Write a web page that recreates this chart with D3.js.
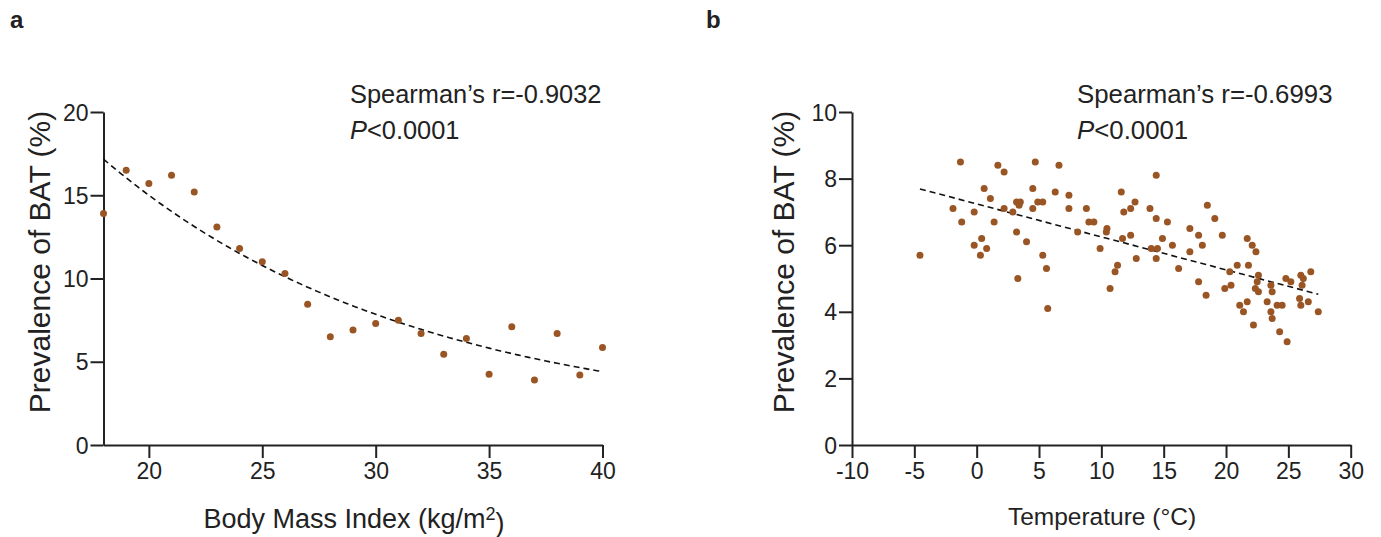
<html>
<head>
<meta charset="utf-8">
<script src="https://cdn.jsdelivr.net/npm/d3@7"></script>
<style>
  body { margin: 0; background: #fff; }
  text { font-family: "Liberation Sans", Arial, sans-serif; fill: #222; }
</style>
</head>
<body>
<svg id="chart" width="1381" height="537"></svg>
<script>
// panel a : BMI vs prevalence
var bmiX = [18, 19, 20, 21, 22, 23, 24, 25, 26, 27, 28, 29, 30, 31, 32, 33, 34, 35, 36, 37, 38, 39, 40];
var bmiY = [13.9, 16.5, 15.7, 16.2, 15.2, 13.1, 11.8, 11.0, 10.3, 8.45, 6.5, 6.9, 7.3, 7.5, 6.7, 5.45, 6.4, 4.25, 7.1, 3.9, 6.7, 4.2, 5.85];
var bmiTicksX = [20, 25, 30, 35, 40];
var bmiTicksY = [0, 5, 10, 15, 20];
// one phase decay fit: plateau + span * exp(-k (x - 18))
var bmiFit = { plateau: 1.2, span: 15.97, k: 0.073 };

// panel b : temperature vs prevalence
var tempX = [-1.3, 1.7, 2.2, 0.6, 1.1, -1.9, -0.2, 2.2, 2.9, -1.2, 1.4, 3.2, 0.4, -0.2, 0.8, 0.3, -4.55, 3.3,
  4.7, 6.6, 4.5, 6.3, 7.4, 3.2, 3.5, 3.4, 4.9, 5.3, 4.5, 7.4, 8.8, 9.0, 9.4, 8.1, 4.0, 10.45, 10.4, 11.6, 12.7, 11.8, 12.35,
  13.9, 14.4, 14.4, 15.3, 14.9, 11.7, 12.35, 9.9, 14.0, 14.5, 15.7, 14.4, 12.8, 16.2, 5.3, 5.6, 5.7, 11.3, 11.1, 10.7,
  18.5, 19.1, 17.1, 17.8, 18.1, 19.7, 17.1, 17.8, 18.4, 21.7, 22.1, 22.4, 20.9, 21.8, 20.3, 20.4, 19.9, 22.6, 22.5, 22.35,
  22.6, 23.6, 23.7, 23.3, 23.6, 23.7, 24.1, 24.5, 21.1, 21.7, 21.4, 22.2, 24.3, 24.9, 24.8, 25.2, 26.0, 26.2, 26.1, 26.8,
  25.9, 26.0, 26.6, 27.4];
var tempY = [8.5, 8.4, 8.2, 7.7, 7.4, 7.1, 7.0, 7.1, 7.0, 6.7, 6.7, 6.4, 6.2, 6.0, 5.9, 5.7, 5.7, 5.0,
  8.5, 8.4, 7.7, 7.6, 7.5, 7.3, 7.3, 7.2, 7.3, 7.3, 7.1, 7.1, 7.1, 6.7, 6.7, 6.4, 6.1, 6.5, 6.4, 7.6, 7.3, 7.0, 7.1,
  7.1, 8.1, 6.8, 6.7, 6.2, 6.2, 6.3, 5.9, 5.9, 5.9, 6.0, 5.6, 5.6, 5.3, 5.7, 5.3, 4.1, 5.4, 5.2, 4.7,
  7.2, 6.8, 6.5, 6.3, 6.0, 6.3, 5.8, 4.9, 4.5, 6.2, 6.0, 5.8, 5.4, 5.4, 5.2, 4.8, 4.7, 5.1, 4.9, 4.7,
  4.6, 4.8, 4.6, 4.3, 4.0, 3.8, 4.2, 4.2, 4.2, 4.3, 4.0, 3.6, 3.4, 3.1, 5.0, 4.9, 5.1, 5.0, 4.8, 5.2,
  4.4, 4.2, 4.3, 4.0];
var tempTicksX = [-10, -5, 0, 5, 10, 15, 20, 25, 30];
var tempTicksY = [0, 2, 4, 6, 8, 10];
// linear fit
var tempFit = { slope: -0.099, intercept: 7.24 };

var dotColor = "#9a5524";
var svg = d3.select("#chart");

function drawPanel(opt) {
  var g = svg.append("g");
  var x = d3.scaleLinear().domain(opt.xDomain).range(opt.xRange);
  var y = d3.scaleLinear().domain(opt.yDomain).range([445, 112]);

  var xAxisG = g.append("g")
    .attr("transform", "translate(0,445)")
    .call(d3.axisBottom(x).tickValues(opt.xTicks).tickSize(13).tickSizeOuter(0).tickPadding(4).tickFormat(d => String(d)));
  var yAxisG = g.append("g")
    .attr("transform", "translate(" + opt.xRange[0] + ",0)")
    .call(d3.axisLeft(y).tickValues(opt.yTicks).tickSize(13).tickSizeOuter(0).tickPadding(2).tickFormat(d => String(d)));

  [xAxisG, yAxisG].forEach(function(a) {
    a.select(".domain").attr("stroke", "#222").attr("stroke-width", 2);
    a.selectAll(".tick line").attr("stroke", "#222").attr("stroke-width", 2);
    a.selectAll(".tick text").style("font-size", "23px").attr("fill", "#222")
      .style("font-family", "Liberation Sans, Arial, sans-serif");
  });
  xAxisG.selectAll(".tick text").attr("dy", "0.75em");
  yAxisG.selectAll(".tick text").attr("dy", "0.35em");

  // fit line
  var line = d3.line().x(d => x(d[0])).y(d => y(d[1]));
  g.append("path")
    .attr("d", line(opt.fitPts))
    .attr("fill", "none")
    .attr("stroke", "#111")
    .attr("stroke-width", 1.6)
    .attr("stroke-dasharray", "6,4");

  // dots
  g.selectAll("circle.dot")
    .data(opt.xs.map((v, i) => [v, opt.ys[i]]))
    .enter()
    .append("circle")
    .attr("class", "dot")
    .attr("r", 3.5)
    .attr("cx", d => x(d[0]))
    .attr("cy", d => y(d[1]))
    .attr("fill", dotColor);

  // annotation
  g.append("text")
    .attr("x", opt.noteX).attr("y", 103)
    .style("font-size", opt.noteSize)
    .text(opt.note);
  var p = g.append("text")
    .attr("x", opt.noteX).attr("y", 139)
    .style("font-size", opt.noteSize);
  p.append("tspan").style("font-style", "italic").text("P");
  p.append("tspan").text("<0.0001");

  // panel letter
  g.append("text")
    .attr("x", opt.letterX).attr("y", 28)
    .style("font-size", "24px").style("font-weight", "bold")
    .text(opt.letter);

  // y title
  g.append("text")
    .attr("transform", "translate(" + opt.yTitleX + ",262) rotate(-90)")
    .attr("text-anchor", "middle")
    .style("font-size", opt.yTitleSize)
    .text("Prevalence of BAT (%)");

  return { g: g, x: x, y: y };
}

// panel a
var bmiFitPts = d3.range(18, 40.01, 0.25).map(function(v) {
  return [v, bmiFit.plateau + bmiFit.span * Math.exp(-bmiFit.k * (v - 18))];
});
var pa = drawPanel({
  xDomain: [18, 40], xRange: [103.5, 602.5], yDomain: [0, 20],
  xTicks: bmiTicksX, yTicks: bmiTicksY, xs: bmiX, ys: bmiY,
  fitPts: bmiFitPts, note: "Spearman\u2019s r=-0.9032", noteX: 350, noteSize: "25.4px",
  letter: "a", letterX: 10, yTitleX: 50, yTitleSize: "30px"
});
var xt = pa.g.append("text")
  .attr("x", 354).attr("y", 528)
  .attr("text-anchor", "middle")
  .style("font-size", "27px");
xt.append("tspan").text("Body Mass Index (kg/m");
xt.append("tspan").attr("dy", "-0.45em").style("font-size", "18px").text("2");
xt.append("tspan").attr("dy", "0.45em").text(")");

// panel b
var tMin = d3.min(tempX), tMax = d3.max(tempX);
var tempFitPts = [tMin, tMax].map(v => [v, tempFit.intercept + tempFit.slope * v]);
var pb = drawPanel({
  xDomain: [-10, 30], xRange: [852, 1350.7], yDomain: [0, 10],
  xTicks: tempTicksX, yTicks: tempTicksY, xs: tempX, ys: tempY,
  fitPts: tempFitPts, note: "Spearman\u2019s r=-0.6993", noteX: 1077, noteSize: "25.8px",
  letter: "b", letterX: 706, yTitleX: 794, yTitleSize: "30px"
});
pb.g.append("text")
  .attr("x", 1102).attr("y", 525)
  .attr("text-anchor", "middle")
  .style("font-size", "24.5px")
  .text("Temperature (\u00B0C)");
</script>
</body>
</html>
